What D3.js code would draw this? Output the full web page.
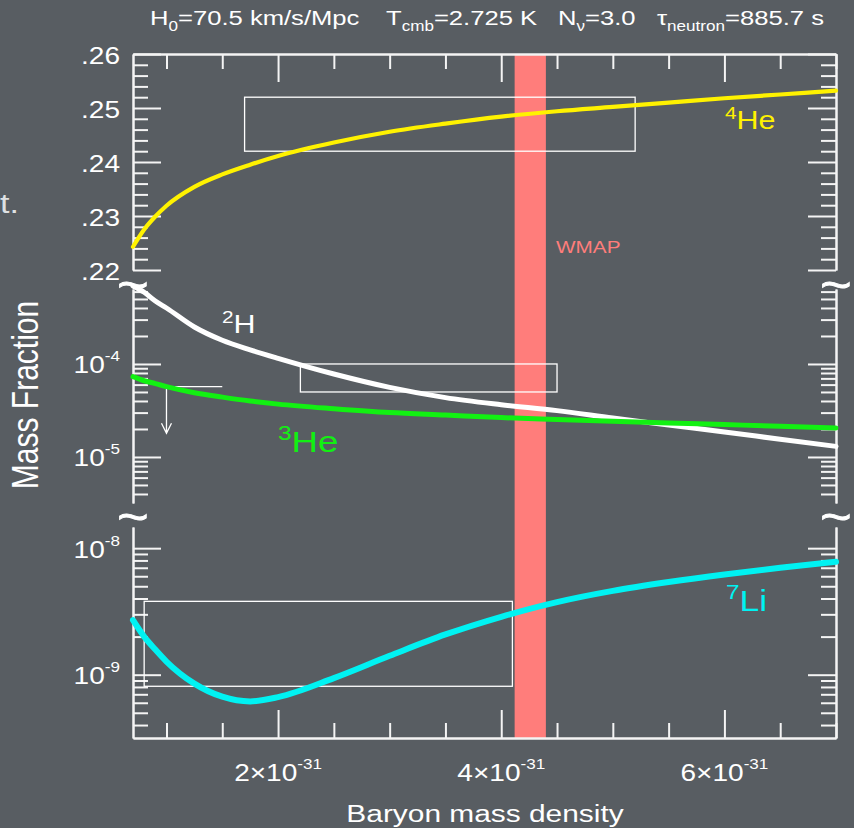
<!DOCTYPE html>
<html>
<head>
<meta charset="utf-8">
<script src="https://cdn.jsdelivr.net/npm/d3@7"></script>
<style>
  html, body { margin: 0; padding: 0; background: #585d62; }
  svg { display: block; }
</style>
</head>
<body>
<svg id="chart" width="854" height="828"></svg>
<script>
// Baryon mass density grid, in units of 1e-31 g/cm^3
const density = [0.7, 0.8, 0.9, 1.0, 1.25, 1.5, 1.75, 2.0, 2.5, 3.0, 3.5, 4.0, 4.5, 5.0, 5.5, 6.0, 6.5, 7.0];
// Predicted primordial mass fractions
const he4 = [0.2243, 0.2275, 0.2299, 0.2319, 0.2354, 0.2377, 0.2395, 0.2411, 0.2436, 0.2456, 0.2471, 0.2484, 0.2494, 0.2502, 0.2510, 0.2518, 0.2525, 0.2532];
const h2  = [6.9e-4, 5.9e-4, 4.75e-4, 4.0e-4, 2.5e-4, 1.8e-4, 1.42e-4, 1.15e-4, 7.8e-5, 5.6e-5, 4.35e-5, 3.65e-5, 3.15e-5, 2.62e-5, 2.2e-5, 1.86e-5, 1.55e-5, 1.30e-5];
const he3 = [7.3e-5, 6.6e-5, 6.15e-5, 5.7e-5, 4.9e-5, 4.4e-5, 4.0e-5, 3.7e-5, 3.3e-5, 3.0e-5, 2.82e-5, 2.65e-5, 2.53e-5, 2.42e-5, 2.32e-5, 2.23e-5, 2.14e-5, 2.05e-5];
const li7 = [2.7e-9, 2.0e-9, 1.58e-9, 1.27e-9, 8.5e-10, 6.7e-10, 6.15e-10, 6.65e-10, 9.4e-10, 1.41e-9, 2.08e-9, 2.87e-9, 3.75e-9, 4.6e-9, 5.4e-9, 6.2e-9, 7.0e-9, 7.8e-9];

// WMAP baryon density band [low, high]
const wmapBand = [4.12, 4.40];
// Observational boxes: [xMin, xMax, yMin, yMax]
const he4Box = [1.7, 5.2, 0.242, 0.252];
const h2Box  = [2.2, 4.5, 5.0e-5, 1.0e-4];
const li7Box = [0.8, 4.1, 8.1e-10, 3.8e-9];
// 3He upper limit: [xStart, xEnd, level, arrowTip]
const he3Limit = [1.0, 1.5, 5.7e-5, 1.8e-5];

// Tick values
const xMajor = [2, 4, 6];
const xMinor = [1, 1.5, 2.5, 3, 3.5, 4.5, 5, 5.5, 6.5, 7];
const he4Major = [0.22, 0.23, 0.24, 0.25, 0.26];
const he4Minor = [0.222, 0.224, 0.226, 0.228, 0.232, 0.234, 0.236, 0.238, 0.242, 0.244, 0.246, 0.248, 0.252, 0.254, 0.256, 0.258];
const he4Labels = [".22", ".23", ".24", ".25", ".26"];
const midMajor = [1e-5, 1e-4];
const midMinor = [4e-6, 5e-6, 6e-6, 7e-6, 8e-6, 9e-6, 2e-5, 3e-5, 4e-5, 5e-5, 6e-5, 7e-5, 8e-5, 9e-5, 2e-4, 3e-4, 4e-4, 5e-4, 6e-4];
const midExp = ["-5", "-4"];
const lowMajor = [1e-9, 1e-8];
const lowMinor = [4e-10, 5e-10, 6e-10, 7e-10, 8e-10, 9e-10, 2e-9, 3e-9, 4e-9, 5e-9, 6e-9, 7e-9, 8e-9, 9e-9];
const lowExp = ["-9", "-8"];
const xExp = "-31";

const svg = d3.select("#chart");
const W = 854, H = 828;
const FONT = "'Liberation Sans', Arial, Helvetica, sans-serif";
const SX = 1.22; // horizontal text stretch of the slide

const pL = 133, pR = 836, pT = 54, pB = 738;
const x = d3.scaleLinear().domain([0.7, 7.0]).range([pL, pR]);
const yTop = d3.scaleLinear().domain([0.22, 0.26]).range([270, pT]);
const yMid = d3.scaleLog().domain([3.2e-6, 6.4e-4]).range([503, 289]);
const yLow = d3.scaleLog().domain([3.16e-10, 1.47e-8]).range([pB, 527]);

// background
svg.append("rect").attr("width", W).attr("height", H).attr("fill", "#585d62");

// text helper: parts = [[string, "sup"|"sub"|null], ...]
function label(px, py, parts, o) {
  const size = o.size, fill = o.fill || "#ffffff";
  const g = svg.append("g")
    .attr("transform", `translate(${px},${py}) scale(${SX},1)` + (o.rotate ? ` rotate(${o.rotate})` : ""));
  const t = g.append("text")
    .attr("font-family", FONT).attr("font-size", size).attr("fill", fill)
    .attr("text-anchor", o.anchor || "start");
  if (o.stroke) t.attr("stroke", fill).attr("stroke-width", o.stroke);
  let shift = 0;
  parts.forEach(([s, kind]) => {
    const sp = t.append("tspan").text(s);
    let target = 0, fs = size;
    if (kind === "sup") { target = -(o.supRaise || size * 0.55); fs = o.supSize || size * 0.62; }
    if (kind === "sub") { target = (o.subDrop || size * 0.28); fs = o.subSize || size * 0.62; }
    sp.attr("dy", target - shift).attr("font-size", fs);
    shift = target;
  });
  return g;
}

// WMAP band
svg.append("rect")
  .attr("x", x(wmapBand[0])).attr("width", x(wmapBand[1]) - x(wmapBand[0]))
  .attr("y", pT).attr("height", pB - pT)
  .attr("fill", "#ff7d7b");
label((x(wmapBand[0]) + x(wmapBand[1])) / 2 + 58, 253, [["WMAP"]], { size: 17, fill: "#ff7d7b", anchor: "middle" });

// axes helpers
const axColor = "#f4f4f4";
function styleAxis(g) {
  g.selectAll("path.domain").attr("stroke", axColor).attr("stroke-width", 2);
  g.selectAll(".tick line").attr("stroke", axColor).attr("stroke-width", 2);
  g.selectAll(".tick text").remove();
}
function yTicks(scale, major, minor) {
  [[pL, d3.axisRight], [pR, d3.axisLeft]].forEach(([px, mk]) => {
    svg.append("g").attr("transform", `translate(${px},0)`)
      .call(mk(scale).tickValues(minor).tickSize(15).tickSizeOuter(0).tickFormat(""))
      .call(styleAxis);
    svg.append("g").attr("transform", `translate(${px},0)`)
      .call(mk(scale).tickValues(major).tickSize(28).tickSizeOuter(0).tickFormat(""))
      .call(styleAxis);
  });
}
yTicks(yTop, he4Major, he4Minor);
yTicks(yMid, midMajor, midMinor);
yTicks(yLow, lowMajor, lowMinor);

[[pB, d3.axisTop], [pT, d3.axisBottom]].forEach(([py, mk]) => {
  svg.append("g").attr("transform", `translate(0,${py})`)
    .call(mk(x).tickValues(xMinor).tickSize(15).tickSizeOuter(0).tickFormat(""))
    .call(styleAxis);
  svg.append("g").attr("transform", `translate(0,${py})`)
    .call(mk(x).tickValues(xMajor).tickSize(28).tickSizeOuter(0).tickFormat(""))
    .call(styleAxis);
});

// axis break marks
[pL, pR].forEach(px => {
  [286, 518].forEach(py => {
    label(px, py + 14, [["~"]], { size: 44, anchor: "middle", stroke: 0.9 });
  });
});

// y tick labels
he4Major.forEach((v, i) => label(120, yTop(v) + 9.5, [[he4Labels[i]]], { size: 23, anchor: "end" }));
midMajor.forEach((v, i) => label(120, yMid(v) + 9.5, [["10"], [midExp[i], "sup"]], { size: 23, anchor: "end", supSize: 14, supRaise: 12 }));
lowMajor.forEach((v, i) => label(120, yLow(v) + 9.5, [["10"], [lowExp[i], "sup"]], { size: 23, anchor: "end", supSize: 14, supRaise: 12 }));

// x tick labels
xMajor.forEach(v => label(x(v), 781, [[v + "\u00d710"], [xExp, "sup"]], { size: 23, anchor: "middle", supSize: 14, supRaise: 12 }));

// axis titles
label(485, 822, [["Baryon mass density"]], { size: 24.5, anchor: "middle" });
label(38, 395, [["Mass Fraction"]], { size: 30, anchor: "middle", rotate: -90 });

// header
const hdr = { size: 21, subSize: 14, subDrop: 6 };
label(150, 25, [["H"], ["0", "sub"], ["=70.5 km/s/Mpc"]], hdr);
label(386, 25, [["T"], ["cmb", "sub"], ["=2.725 K"]], hdr);
label(558, 25, [["N"], ["\u03bd", "sub"], ["=3.0"]], hdr);
label(657, 25, [["\u03c4"], ["neutron", "sub"], ["=885.7 s"]], hdr);

// fragment of slide text at left edge
label(0, 213, [["t."]], { size: 28, fill: "#dfe1e3", anchor: "start" });

// observational boxes
function box(b, ys) {
  svg.append("rect")
    .attr("x", x(b[0])).attr("width", x(b[1]) - x(b[0]))
    .attr("y", ys(b[3])).attr("height", ys(b[2]) - ys(b[3]))
    .attr("fill", "none").attr("stroke", "#ffffff").attr("stroke-width", 1.3);
}
box(he4Box, yTop);
box(h2Box, yMid);
box(li7Box, yLow);

// 3He upper limit with arrow
const lx0 = x(he3Limit[0]), lx1 = x(he3Limit[1]), ly = yMid(he3Limit[2]), ltip = yMid(he3Limit[3]);
svg.append("path")
  .attr("d", `M${lx1},${ly}H${lx0}V${ltip}M${lx0 - 5},${ltip - 10}L${lx0},${ltip}L${lx0 + 5},${ltip - 10}`)
  .attr("fill", "none").attr("stroke", "#ffffff").attr("stroke-width", 1.3);

// abundance curves
function curve(vals, ys, color, width) {
  const line = d3.line().x((d, i) => x(density[i])).y(d => ys(d)).curve(d3.curveMonotoneX);
  svg.append("path").datum(vals).attr("d", line)
    .attr("fill", "none").attr("stroke", color).attr("stroke-width", width)
    .attr("stroke-linecap", "round");
}
curve(he4, yTop, "#fff200", 4.2);
curve(h2, yMid, "#ffffff", 5);
curve(he3, yMid, "#12f012", 5);
curve(li7, yLow, "#00f2f2", 6);

// curve labels
label(725, 129, [["4", "sup"], ["He"]], { size: 25, fill: "#fff200", supSize: 17, supRaise: 10 });
label(222, 332.5, [["2", "sup"], ["H"]], { size: 25, fill: "#ffffff", supSize: 17, supRaise: 10 });
label(278, 451.5, [["3", "sup"], ["He"]], { size: 30, fill: "#12f012", supSize: 20, supRaise: 12 });
label(726, 611, [["7", "sup"], ["Li"]], { size: 29, fill: "#00f2f2", supSize: 20, supRaise: 12 });
</script>
</body>
</html>
